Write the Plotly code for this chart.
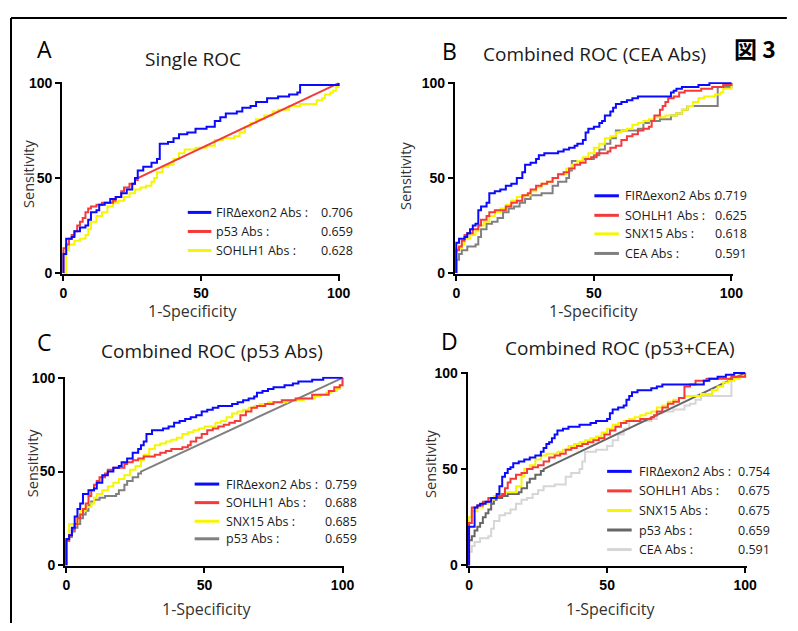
import plotly.graph_objects as go

# ---------------- data ----------------
# shared p53 Abs curve (AUC 0.659): steps, then straight segment from knee to (100,100)
p53_x = [0, 0, 1, 2, 3, 4, 5, 6, 7, 8, 9, 10, 12, 14, 16, 18, 19, 21, 22, 24, 26, 27, 100]
p53_y = [0, 13, 15, 18, 20, 22, 25, 27, 29, 32, 34, 35, 36, 37, 37, 38, 40, 43, 45, 47, 49, 50, 100]
p53_knee = 21  # index from which the curve is a straight line

# shared CEA Abs curve (AUC 0.591)
cea_x = [0, 0, 1, 2, 4, 7, 8, 9, 11, 13, 15, 17, 19, 21, 23, 25, 27, 31, 35, 37, 40, 41, 42, 46, 50, 52, 54, 56, 58, 66, 68, 70, 74, 78, 80, 82, 84, 95, 95, 100]
cea_y = [0, 7, 10, 12, 14, 15, 19, 23, 26, 27, 29, 32, 34, 35, 37, 39, 41, 42, 46, 48, 50, 54, 59, 60, 62, 65, 68, 71, 75, 76, 79, 80, 81, 83, 84, 86, 88, 88, 98, 100]

# Panel A
A_fir_x = [0, 0, 1, 3, 4, 6, 8, 9, 10, 12, 13, 15, 17, 19, 21, 23, 25, 26, 27, 29, 32, 34, 35, 38, 40, 42, 45, 48, 52, 55, 57, 59, 63, 65, 68, 70, 74, 78, 82, 85, 86, 100]
A_fir_y = [0, 10, 18, 19, 22, 24, 25, 28, 32, 33, 36, 37, 39, 40, 42, 44, 47, 50, 54, 56, 58, 60, 68, 69, 71, 73, 74, 76, 77, 80, 82, 84, 85, 87, 88, 90, 92, 93, 94, 95, 99, 100]
A_soh_x = [0, 1, 1, 2, 4, 6, 8, 9, 10, 12, 14, 16, 18, 20, 22, 24, 26, 28, 30, 32, 33, 34, 36, 38, 40, 42, 44, 48, 52, 55, 58, 62, 64, 66, 68, 70, 73, 76, 78, 82, 86, 90, 92, 94, 95, 97, 98, 99, 100]
A_soh_y = [0, 5, 12, 15, 17, 18, 20, 23, 27, 30, 32, 35, 37, 38, 40, 42, 44, 45, 46, 48, 50, 53, 56, 57, 60, 63, 65, 66, 67, 70, 71, 72, 74, 77, 79, 81, 83, 85, 86, 88, 89, 89, 91, 92, 94, 95, 96, 98, 100]

# Panel B
B_fir_x = [0, 0, 1, 3, 4, 5, 6, 7, 8, 9, 11, 12, 14, 16, 18, 20, 22, 24, 25, 27, 29, 30, 32, 37, 39, 41, 43, 44, 46, 47, 48, 50, 52, 53, 54, 56, 57, 58, 60, 62, 64, 66, 76, 78, 79, 80, 82, 88, 92, 100]
B_fir_y = [0, 16, 18, 19, 21, 23, 25, 26, 33, 35, 37, 42, 43, 44, 46, 47, 50, 53, 57, 58, 60, 62, 63, 64, 65, 66, 67, 68, 70, 74, 76, 77, 79, 80, 83, 85, 87, 89, 90, 91, 92, 93, 93, 95, 96, 97, 98, 99, 100, 100]
B_soh_x = [0, 0, 1, 2, 3, 4, 6, 8, 9, 11, 12, 14, 18, 20, 22, 24, 26, 27, 29, 31, 33, 35, 37, 39, 41, 43, 45, 47, 49, 51, 55, 56, 58, 60, 62, 64, 66, 68, 70, 71, 72, 74, 75, 76, 77, 79, 81, 83, 89, 93, 97, 100]
B_soh_y = [0, 12, 14, 17, 20, 21, 23, 25, 28, 30, 32, 33, 35, 37, 38, 41, 42, 44, 46, 47, 48, 50, 52, 53, 55, 57, 58, 60, 61, 63, 64, 66, 67, 70, 72, 73, 75, 76, 77, 80, 83, 86, 88, 90, 92, 93, 95, 96, 97, 98, 99, 100]
B_snx_x = [0, 0, 0, 2, 3, 5, 7, 8, 10, 12, 14, 16, 18, 20, 22, 25, 27, 29, 31, 33, 35, 37, 40, 42, 44, 46, 48, 50, 52, 54, 56, 58, 60, 62, 64, 66, 68, 70, 72, 76, 80, 82, 84, 86, 88, 90, 94, 96, 97, 100]
B_snx_y = [0, 9, 13, 15, 18, 20, 22, 25, 27, 30, 32, 34, 36, 38, 40, 41, 43, 45, 47, 48, 50, 52, 55, 57, 59, 61, 63, 66, 68, 71, 72, 74, 75, 76, 78, 79, 80, 81, 82, 83, 84, 86, 88, 90, 92, 93, 94, 95, 97, 100]

# Panel C
C_fir_x = [0, 0, 1, 2, 3, 4, 5, 6, 8, 10, 11, 13, 15, 17, 19, 20, 22, 24, 26, 27, 28, 29, 31, 35, 37, 39, 41, 43, 45, 47, 49, 51, 53, 55, 60, 62, 64, 66, 68, 69, 71, 73, 75, 79, 82, 84, 89, 93, 100]
C_fir_y = [0, 14, 16, 20, 26, 30, 33, 38, 40, 41, 44, 48, 50, 52, 53, 55, 57, 60, 62, 64, 66, 70, 72, 73, 74, 76, 77, 78, 79, 80, 82, 83, 84, 85, 86, 87, 88, 89, 90, 92, 93, 94, 95, 96, 97, 98, 99, 100, 100]
C_soh_x = [0, 0, 1, 2, 3, 4, 5, 6, 7, 8, 9, 10, 11, 12, 14, 15, 17, 21, 22, 24, 26, 28, 32, 34, 36, 38, 42, 44, 45, 47, 49, 51, 53, 55, 57, 59, 61, 63, 65, 67, 69, 72, 75, 78, 83, 89, 95, 97, 99, 100]
C_soh_y = [0, 13, 16, 19, 22, 25, 27, 30, 33, 37, 40, 43, 45, 47, 49, 51, 52, 54, 55, 56, 57, 58, 59, 60, 61, 62, 63, 64, 66, 68, 70, 72, 73, 74, 75, 76, 77, 80, 82, 84, 85, 86, 87, 88, 89, 91, 93, 95, 96, 100]
C_snx_x = [0, 0, 1, 3, 4, 5, 7, 9, 10, 11, 13, 15, 17, 19, 21, 23, 25, 27, 28, 30, 32, 34, 36, 38, 40, 42, 44, 46, 48, 50, 54, 56, 58, 60, 62, 64, 66, 68, 70, 73, 80, 86, 90, 92, 94, 96, 98, 99, 100]
C_snx_y = [0, 14, 22, 22, 26, 29, 31, 33, 36, 38, 40, 42, 44, 46, 48, 51, 53, 56, 59, 62, 64, 65, 66, 67, 68, 70, 71, 72, 73, 74, 76, 77, 79, 81, 82, 83, 84, 85, 86, 87, 88, 89, 90, 91, 92, 93, 94, 96, 100]

# Panel D
D_fir_x = [0, 0, 2, 2, 3, 4, 6, 8, 10, 11, 12, 13, 14, 15, 16, 18, 20, 22, 24, 26, 27, 28, 29, 30, 31, 32, 34, 36, 40, 44, 46, 50, 51, 52, 54, 56, 57, 58, 59, 61, 66, 68, 70, 84, 85, 87, 90, 93, 96, 100]
D_fir_y = [0, 20, 21, 30, 31, 32, 33, 35, 37, 41, 46, 48, 50, 51, 53, 54, 55, 56, 57, 59, 61, 63, 64, 66, 68, 70, 71, 72, 73, 74, 75, 76, 79, 81, 82, 83, 86, 88, 90, 91, 92, 93, 94, 94, 96, 97, 98, 99, 100, 100]
D_soh_x = [0, 0, 1, 1, 3, 5, 7, 10, 12, 13, 14, 15, 17, 19, 21, 23, 25, 27, 29, 31, 33, 35, 37, 39, 41, 43, 45, 47, 49, 51, 53, 55, 57, 62, 66, 67, 68, 70, 72, 74, 76, 78, 78, 80, 82, 86, 95, 100]
D_soh_y = [0, 22, 25, 30, 31, 33, 35, 36, 37, 40, 43, 45, 47, 48, 50, 51, 52, 54, 56, 57, 58, 60, 61, 62, 63, 64, 65, 66, 68, 70, 72, 74, 75, 76, 77, 78, 80, 82, 84, 85, 87, 88, 93, 94, 96, 97, 98, 100]
D_snx_x = [0, 0, 0, 1, 3, 5, 7, 9, 11, 13, 17, 19, 20, 22, 24, 26, 28, 32, 34, 36, 38, 40, 42, 44, 46, 48, 50, 52, 54, 56, 58, 60, 62, 64, 66, 68, 70, 72, 74, 76, 78, 84, 88, 90, 92, 94, 96, 98, 100, 100]
D_snx_y = [0, 14, 25, 28, 30, 32, 34, 36, 37, 38, 41, 46, 50, 52, 55, 57, 58, 59, 60, 62, 63, 64, 65, 66, 67, 69, 71, 73, 74, 75, 76, 77, 78, 79, 80, 82, 83, 85, 86, 87, 88, 89, 91, 93, 95, 96, 97, 98, 98, 100]

# legend texts
A_labels = ["FIRΔexon2 Abs :", "p53 Abs :", "SOHLH1 Abs :"]
A_aucs = ["0.706", "0.659", "0.628"]
B_labels = ["FIRΔexon2 Abs :", "SOHLH1 Abs :", "SNX15 Abs :", "CEA Abs :"]
B_aucs = ["0.719", "0.625", "0.618", "0.591"]
C_labels = ["FIRΔexon2 Abs :", "SOHLH1 Abs :", "SNX15 Abs :", "p53 Abs :"]
C_aucs = ["0.759", "0.688", "0.685", "0.659"]
D_labels = ["FIRΔexon2 Abs :", "SOHLH1 Abs :", "SNX15 Abs :", "p53 Abs :", "CEA Abs :"]
D_aucs = ["0.754", "0.675", "0.675", "0.659", "0.591"]

titles = ["Single ROC", "Combined ROC (CEA Abs)", "Combined ROC (p53 Abs)", "Combined ROC (p53+CEA)"]
letters = ["A", "B", "C", "D"]
tick_vals = [0, 50, 100]
tick_text = ["0", "50", "100"]

# ---------------- styling ----------------
BLUE = "#0a0aff"
RED = "#f43a3a"
YEL = "#f6f600"
GRAY = "#808080"
DGRAY = "#666666"
LGRAY = "#d6d6d6"
PAGE_W, PAGE_H = 798, 631
OFF = 8                      # default page margin around the figure
W, H = PAGE_W - 2 * OFF, PAGE_H - 2 * OFF
TXT = "Open Sans"


def stair(xs, ys, linear_from=None):
    ox, oy = [xs[0]], [ys[0]]
    for i in range(1, len(xs)):
        if linear_from is None or i <= linear_from:
            ox.append(xs[i]); oy.append(ys[i - 1])
        ox.append(xs[i]); oy.append(ys[i])
    return ox, oy


def px(x):  # page pixel -> paper fraction
    return (x - OFF) / W


def py(y):
    return 1 - (y - OFF) / H


fig = go.Figure()

# panel geometry (page pixels): x0, x100, ybottom, ytop
panels = {
    1: (60, 343, 273, 76.7),
    2: (460, 743, 273, 76.7),
    3: (63, 347, 572, 378.3),
    4: (473, 757, 572, 373.3),
}

curves = {
    1: [(A_soh_x, A_soh_y, YEL, None), (p53_x, p53_y, RED, p53_knee), (A_fir_x, A_fir_y, BLUE, None)],
    2: [(cea_x, cea_y, GRAY, None), (B_snx_x, B_snx_y, YEL, None), (B_soh_x, B_soh_y, RED, None), (B_fir_x, B_fir_y, BLUE, None)],
    3: [(p53_x, p53_y, GRAY, p53_knee), (C_snx_x, C_snx_y, YEL, None), (C_soh_x, C_soh_y, RED, None), (C_fir_x, C_fir_y, BLUE, None)],
    4: [(cea_x, cea_y, LGRAY, None), (p53_x, p53_y, DGRAY, p53_knee), (D_snx_x, D_snx_y, YEL, None), (D_soh_x, D_soh_y, RED, None), (D_fir_x, D_fir_y, BLUE, None)],
}

for k, (x0, x1, yb, yt) in panels.items():
    sfx = "" if k == 1 else str(k)
    for xs, ys, col, knee in curves[k]:
        sx, sy = stair(xs, ys, knee)
        fig.add_trace(go.Scatter(x=sx, y=sy, mode="lines", line=dict(color=col, width=2),
                                 xaxis="x" + sfx, yaxis="y" + sfx, showlegend=False, hoverinfo="skip"))
    axcommon = dict(showgrid=False, zeroline=False, showline=True, linecolor="black", linewidth=2,
                    ticks="outside", ticklen=5, tickwidth=2, tickcolor="black",
                    tickvals=tick_vals, ticktext=tick_text,
                    tickfont=dict(family="Liberation Sans", size=14, color="black", weight="bold"),
                    range=[-0.5, 100.5], fixedrange=True)
    fig.layout["xaxis" + sfx] = go.layout.XAxis(domain=[px(x0), px(x1)], anchor="y" + sfx, **axcommon)
    fig.layout["yaxis" + sfx] = go.layout.YAxis(domain=[py(yb), py(yt)], anchor="x" + sfx, **axcommon)

ann = []
shapes = []


def text(x, y, s, size, xanchor="center", color="#1a1a1a", family=TXT, weight="normal", angle=0):
    ann.append(dict(x=px(x), y=py(y), xref="paper", yref="paper", text=s, showarrow=False,
                    xanchor=xanchor, yanchor="middle", textangle=angle,
                    font=dict(family=family, size=size, color=color, weight=weight)))


# letters and titles
text(42, 43, letters[0], 23, color="black")
text(193, 53, titles[0], 19)
text(455, 45, letters[1], 23, color="black")
text(602, 48, titles[1], 19)
text(42, 343, letters[2], 23, color="black")
text(213, 352, titles[2], 19)
text(455, 342, letters[3], 23, color="black")
text(628, 349, titles[3], 19)
text(766, 42, "図 3", 23, color="black", family="Noto Sans CJK JP", weight="bold")

# axis titles
for (sx_, sy_), (tx, ty) in [((26, 171), (193, 311)), ((409, 173), (601, 311)),
                              ((30, 467), (207, 616)), ((435, 467), (618, 616))]:
    text(sx_, sy_, "Sensitivity", 14.5, angle=-90, color="#333333")
    text(tx, ty, "1-Specificity", 16, color="#333333")

# legends
legends = [
    (A_labels, A_aucs, [BLUE, RED, YEL], 188, 212, 215, 358, [210, 229.5, 249]),
    (B_labels, B_aucs, [BLUE, RED, YEL, GRAY], 602, 627, 631, 759, [193, 213, 232, 252]),
    (C_labels, C_aucs, [BLUE, RED, YEL, GRAY], 195, 220, 225, 362, [488, 507, 526, 544]),
    (D_labels, D_aucs, [BLUE, RED, YEL, DGRAY, LGRAY], 615, 640, 645, 783, [475, 495, 515, 535, 555]),
]
for labels, aucs, cols, lx0, lx1, tx0, tx1, rows in legends:
    for lab, auc, col, ry in zip(labels, aucs, cols, rows):
        shapes.append(dict(type="line", xref="paper", yref="paper", x0=px(lx0), x1=px(lx1),
                           y0=py(ry), y1=py(ry), line=dict(color=col, width=3)))
        text(tx0, ry, lab, 12.5, xanchor="left")
        text(tx1, ry, auc, 12.5, xanchor="right")

# outer frame (left and top edges)
shapes.append(dict(type="line", xref="paper", yref="paper", x0=px(8), x1=px(8), y0=py(11), y1=py(631),
                   line=dict(color="black", width=2)))
shapes.append(dict(type="line", xref="paper", yref="paper", x0=px(8), x1=px(798), y0=py(11), y1=py(11),
                   line=dict(color="black", width=2)))

fig.update_layout(width=W, height=H, margin=dict(l=0, r=0, t=0, b=0),
                  paper_bgcolor="white", plot_bgcolor="white",
                  annotations=ann, shapes=shapes, showlegend=False)

fig.write_html("out.html", config={"displayModeBar": False})
